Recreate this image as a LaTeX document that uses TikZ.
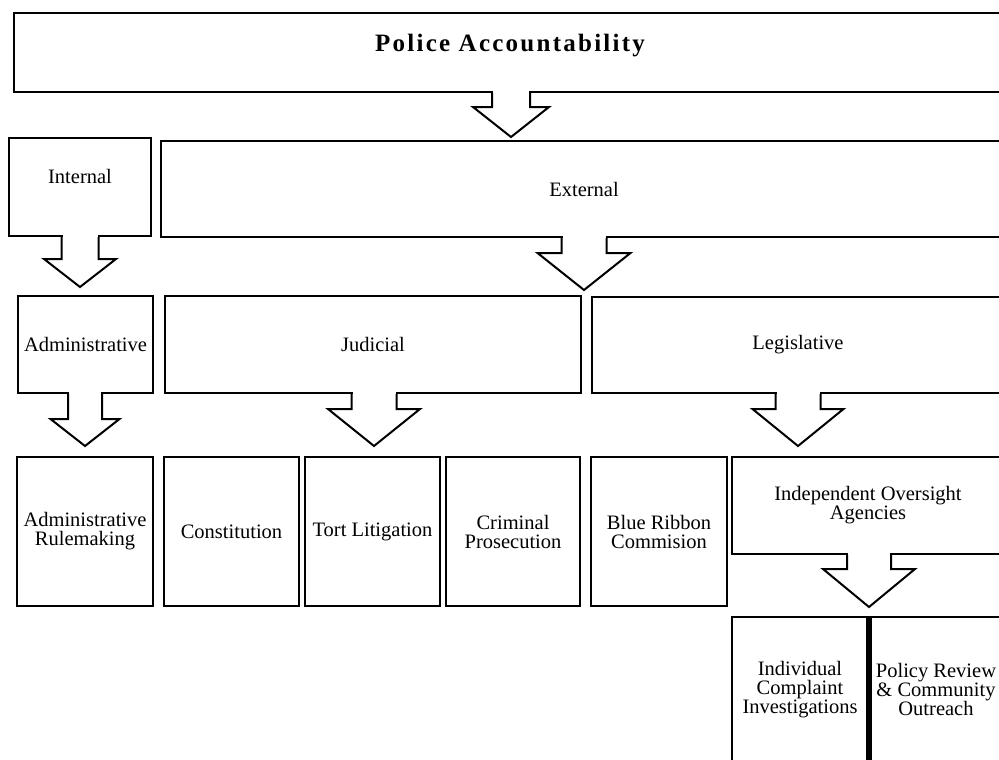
\documentclass[tikz,border=0pt]{standalone}
\usepackage{fontspec}
\setmainfont{Liberation Serif}
\usetikzlibrary{calc}
\tikzset{
  box/.style={draw=black, line width=2pt, fill=white, inner sep=0pt, align=center,
    font=\fontsize{20.5}{19}\selectfont},
  arr/.style={draw=black, line width=2pt, line join=miter},
  lbl/.style={inner sep=0pt, font=\fontsize{20.5}{19}\selectfont},
}
% \bx{name}{left}{top}{right}{bottom}{text}
\newcommand{\bx}[6]{%
  \node[box, minimum width={(#4)-(#2)}, minimum height={(#5)-(#3)}]
    (#1) at ({((#2)+(#4))/2},{((#3)+(#5))/2}) {#6};}
% \blockarr{source}{xc}{shaft half}{head half}{neck}{head length}
\newcommand{\blockarr}[6]{%
  \fill[white] ($(#1.south -| #2,0)+({-(#3)+1},-1.6)$) rectangle ++({2*(#3)-2},3);
  \draw[arr] ($(#1.south -| #2,0)+({-(#3)},0)$) -- ++(0,#5) -- ++({-((#4)-(#3))},0)
    -- ++(#4,#6) -- ++(#4,{-(#6)}) -- ++({-((#4)-(#3))},0) -- ++(0,{-(#5)});}
\begin{document}
\begin{tikzpicture}[x=1pt,y=-1pt]
\useasboundingbox (0,0) rectangle (999,760);
\clip (0,0) rectangle (999,760);
% level 1
\bx{top}{14}{13}{1006}{92}{}
\node[lbl, anchor=base, font=\fontsize{25}{30}\selectfont\bfseries\addfontfeatures{LetterSpace=9}] (topt) at (top.center |- 0,52) {Police Accountability};
% level 2
\bx{int}{9}{138}{151}{236}{}
\node[lbl, anchor=base] (intt) at (int.center |- 0,183) {Internal};
\bx{ext}{161}{141}{1007}{237}{External}
% level 3
\bx{adm}{18}{296}{153}{393}{Administrative}
\bx{jud}{165}{296}{581}{393}{Judicial}
\bx{leg}{592}{297}{1004}{393}{Legislative}
% level 4
\bx{admr}{17}{457}{153}{606}{Administrative\\Rulemaking}
\bx{con}{164}{457}{299}{606}{Constitution}
\bx{tort}{305}{457}{440}{606}{Tort Litigation}
\bx{crim}{446}{457}{580}{606}{Criminal\\Prosecution}
\bx{blue}{591}{457}{727}{606}{Blue Ribbon\\Commision}
\bx{ind}{732}{457}{1004}{554}{Independent Oversight\\Agencies}
% level 5
\bx{icomp}{732}{617}{868}{762}{Individual\\Complaint\\Investigations}
\bx{pol}{868}{617}{1004}{762}{Policy Review\\\& Community\\Outreach}
\draw[line width=6pt] (icomp.north east) -- (icomp.south east);
% block arrows
\blockarr{top}{511}{19}{38}{14}{30}
\blockarr{int}{80}{18.5}{36}{22}{28}
\blockarr{ext}{584}{22.5}{46.5}{15}{37}
\blockarr{adm}{85}{17}{34.5}{25}{27}
\blockarr{jud}{374}{22.5}{46}{15}{37}
\blockarr{leg}{798}{22.5}{45.5}{15}{37}
\blockarr{ind}{869}{22}{46}{14}{38}
\end{tikzpicture}
\end{document}
